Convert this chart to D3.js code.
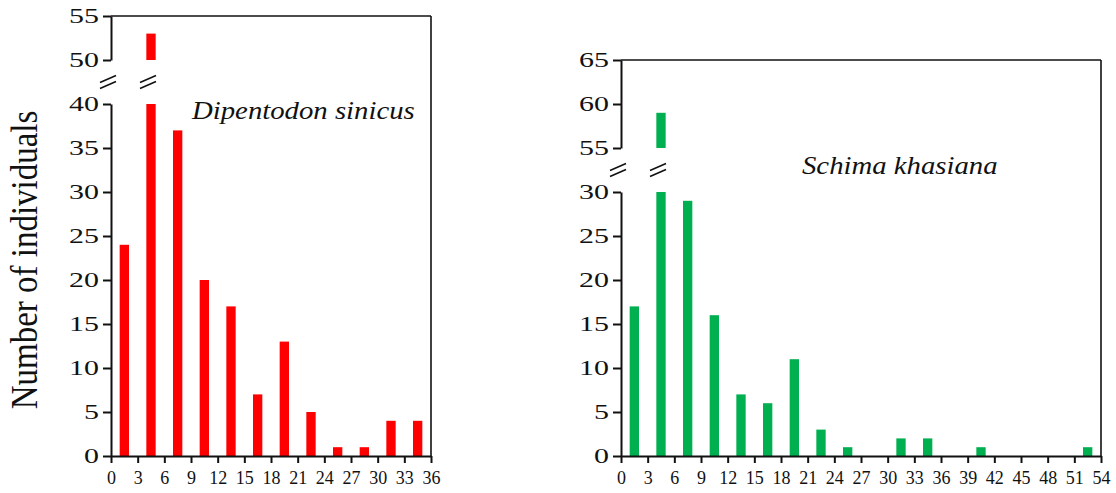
<!DOCTYPE html>
<html>
<head>
<meta charset="utf-8">
<script src="https://d3js.org/d3.v7.min.js"></script>
<style>
  html, body { margin: 0; padding: 0; background: #fff; }
  svg text { font-family: "Liberation Serif", "Times New Roman", serif; fill: #111; }
</style>
</head>
<body>
<div id="chart"></div>
<script>
// --- data (counts per 3-unit class) ---
const binWidth = 3;
const dipentodonCounts = [24, 53, 37, 20, 17, 7, 13, 5, 1, 1, 4, 4];
const schimaCounts = [17, 59, 29, 16, 7, 6, 11, 3, 1, 0, 2, 2, 0, 1, 0, 0, 0, 1];

const dipentodonXTicks = [0, 3, 6, 9, 12, 15, 18, 21, 24, 27, 30, 33, 36];
const schimaXTicks = [0, 3, 6, 9, 12, 15, 18, 21, 24, 27, 30, 33, 36, 39, 42, 45, 48, 51, 54];

const dipentodonLowTicks = [0, 5, 10, 15, 20, 25, 30, 35, 40];
const dipentodonHighTicks = [50, 55];
const schimaLowTicks = [0, 5, 10, 15, 20, 25, 30];
const schimaHighTicks = [55, 60, 65];

const W = 1116, H = 493;
const svg = d3.select("#chart").append("svg")
  .attr("width", W).attr("height", H)
  .attr("viewBox", `0 0 ${W} ${H}`);

const pxPerUnit = 8.8;
const bottomY = 456;
const gap = 44;

// y axis title
svg.append("text")
  .attr("transform", "translate(37,260) rotate(-90) scale(1,1.12)")
  .attr("text-anchor", "middle")
  .style("font-size", "33px")
  .text("Number of individuals");

function panel(cfg) {
  const g = svg.append("g");
  const x = d3.scaleLinear().domain([0, cfg.xMax]).range([cfg.left, cfg.right]);

  const lowMax = cfg.lowTicks[cfg.lowTicks.length - 1];
  const yLow = d3.scaleLinear().domain([0, lowMax])
    .range([bottomY, bottomY - lowMax * pxPerUnit]);
  const hiMin = cfg.highTicks[0], hiMax = cfg.highTicks[cfg.highTicks.length - 1];
  const hiBase = yLow(lowMax) - gap;
  const yHigh = d3.scaleLinear().domain([hiMin, hiMax])
    .range([hiBase, hiBase - (hiMax - hiMin) * pxPerUnit]);
  const top = yHigh(hiMax);
  const midGap = (yLow(lowMax) + hiBase) / 2;

  // bars
  const bw = (x(1.05) - x(0));
  cfg.counts.forEach((v, i) => {
    if (v <= 0) return;
    const cx = x(i * binWidth + binWidth / 2);
    const lowTop = yLow(Math.min(v, lowMax));
    g.append("rect")
      .attr("x", cx - bw / 2).attr("width", bw)
      .attr("y", lowTop).attr("height", bottomY - lowTop)
      .attr("fill", cfg.color);
    if (v > lowMax) {
      g.append("rect")
        .attr("x", cx - bw / 2).attr("width", bw)
        .attr("y", yHigh(v)).attr("height", yHigh(hiMin) - yHigh(v))
        .attr("fill", cfg.color);
      breakMark(g, cx - 3, midGap);
    }
  });

  // frame: top and right
  g.append("line")
    .attr("x1", cfg.left).attr("x2", cfg.right)
    .attr("y1", top).attr("y2", top)
    .attr("stroke", "#111").attr("stroke-width", 1.6);
  g.append("line")
    .attr("x1", cfg.right).attr("x2", cfg.right)
    .attr("y1", top).attr("y2", bottomY)
    .attr("stroke", "#111").attr("stroke-width", 1.6);

  // x axis
  const xAxis = g.append("g")
    .attr("transform", `translate(0,${bottomY})`)
    .call(d3.axisBottom(x).tickValues(cfg.xTicks).tickSize(7).tickSizeOuter(0));
  xAxis.select(".domain").attr("stroke", "#111").attr("stroke-width", 2);
  xAxis.selectAll(".tick line").attr("stroke", "#111").attr("stroke-width", 2);
  xAxis.selectAll(".tick text")
    .attr("y", 15)
    .style("font-size", "18px")
    .style("font-family", "Liberation Serif, serif")
    .attr("fill", "#111");

  // y axes (lower and upper segments)
  [[yLow, cfg.lowTicks], [yHigh, cfg.highTicks]].forEach(([ys, ticks]) => {
    const ya = g.append("g")
      .attr("transform", `translate(${cfg.left},0)`)
      .call(d3.axisLeft(ys).tickValues(ticks).tickSize(8).tickSizeOuter(0).tickFormat(""));
    ya.select(".domain").attr("stroke", "#111").attr("stroke-width", 2);
    ya.selectAll(".tick line").attr("stroke", "#111").attr("stroke-width", 2);
    ticks.forEach(t => {
      g.append("text")
        .attr("transform", `translate(${cfg.left - 12},${ys(t)}) scale(1.36,1)`)
        .attr("text-anchor", "end")
        .attr("dy", "0.34em")
        .style("font-size", "22px")
        .text(t);
    });
  });
  breakMark(g, cfg.left - 3, midGap);

  // species name
  g.append("text")
    .attr("transform", `translate(${cfg.labelX},${cfg.labelY}) scale(1.15,1)`)
    .style("font-size", "25px")
    .style("font-style", "italic")
    .text(cfg.name);
}

function breakMark(g, cx, cy) {
  [-3, 3].forEach(off => {
    g.append("line")
      .attr("x1", cx - 8).attr("y1", cy + off + 3.5)
      .attr("x2", cx + 8).attr("y2", cy + off - 3.5)
      .attr("stroke", "#111").attr("stroke-width", 1.6);
  });
}

panel({
  counts: dipentodonCounts, xTicks: dipentodonXTicks, xMax: 36,
  lowTicks: dipentodonLowTicks, highTicks: dipentodonHighTicks,
  left: 111, right: 431, color: "#ff0000",
  name: "Dipentodon sinicus", labelX: 192, labelY: 119
});

panel({
  counts: schimaCounts, xTicks: schimaXTicks, xMax: 54,
  lowTicks: schimaLowTicks, highTicks: schimaHighTicks,
  left: 621, right: 1101, color: "#00b050",
  name: "Schima khasiana", labelX: 802, labelY: 174
});
</script>
</body>
</html>
